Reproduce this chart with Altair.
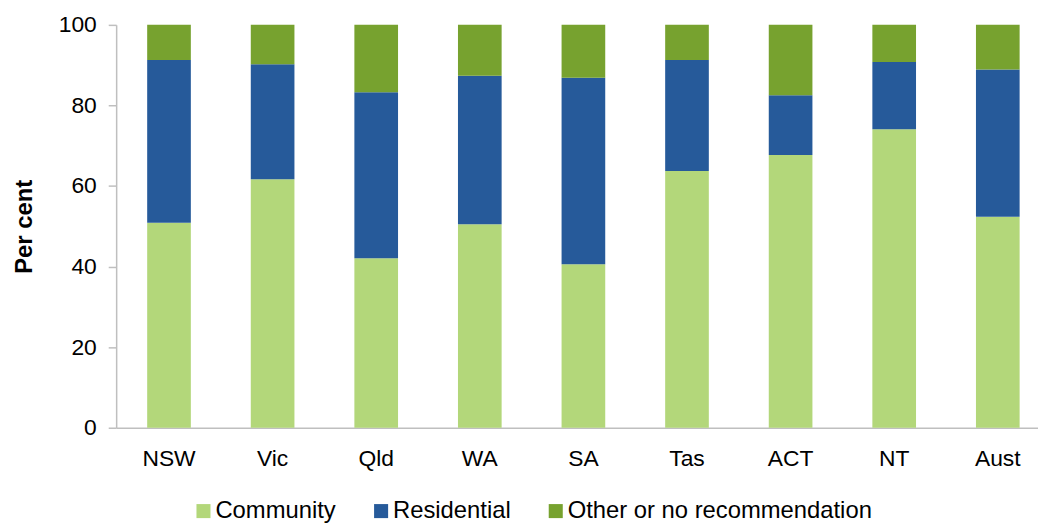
import altair as alt
import pandas as pd

states = ["NSW", "Vic", "Qld", "WA", "SA", "Tas", "ACT", "NT", "Aust"]
community = [50.9, 61.7, 42.1, 50.5, 40.6, 63.7, 67.7, 74.1, 52.4]
residential = [40.4, 28.5, 41.2, 36.9, 46.3, 27.6, 14.8, 16.7, 36.5]
other = [8.7, 9.8, 16.7, 12.6, 13.1, 8.7, 17.5, 9.2, 11.1]

series = ["Community", "Residential", "Other or no recommendation"]
colors = ["#B3D77A", "#265A9A", "#77A22F"]

rows = []
for i, s in enumerate(states):
    for k, (name, vals) in enumerate(zip(series, [community, residential, other])):
        rows.append({"State": s, "Type": name, "Value": vals[i], "Order": k})
df = pd.DataFrame(rows)

FONT = "Liberation Sans"

chart = alt.Chart(df).mark_bar(size=44).encode(
    x=alt.X("State:N", sort=states,
            scale=alt.Scale(paddingInner=0.5785, paddingOuter=0.2384, align=0.628),
            axis=alt.Axis(title=None, labelAngle=0, ticks=False, tickSize=0,
                          labelPadding=20, labelFontSize=23, labelFont=FONT,
                          labelColor="#000000", domainColor="#BFBFBF",
                          domainWidth=1.5, grid=False)),
    y=alt.Y("Value:Q", stack="zero",
            scale=alt.Scale(domain=[0, 100], nice=False),
            axis=alt.Axis(title="Per cent", values=[0, 20, 40, 60, 80, 100],
                          tickSize=8, tickColor="#BFBFBF", tickWidth=1.5,
                          domainColor="#BFBFBF", domainWidth=1.5,
                          labelPadding=12, labelFontSize=23, labelFont=FONT,
                          labelColor="#000000", grid=False,
                          titleFont=FONT, titleFontSize=24, titleFontWeight="bold",
                          titleColor="#000000", titlePadding=22)),
    color=alt.Color("Type:N", sort=series,
                    scale=alt.Scale(domain=series, range=colors),
                    legend=alt.Legend(title=None, orient="none", direction="horizontal",
                                      legendX=76, legendY=478,
                                      symbolType="square", symbolSize=200,
                                      symbolStrokeWidth=0, labelOffset=0,
                                      columnPadding=33, labelFontSize=24,
                                      labelLimit=600,
                                      labelFont=FONT, labelColor="#000000")),
    order=alt.Order("Order:Q", sort="ascending"),
).properties(
    width=929, height=406,
    padding={"left": 109, "top": 15, "right": 0, "bottom": 94},
    autosize=alt.AutoSizeParams(type="none"),
).configure_view(stroke=None)

chart.save("out.html", embed_options={"renderer": "svg", "actions": False})
